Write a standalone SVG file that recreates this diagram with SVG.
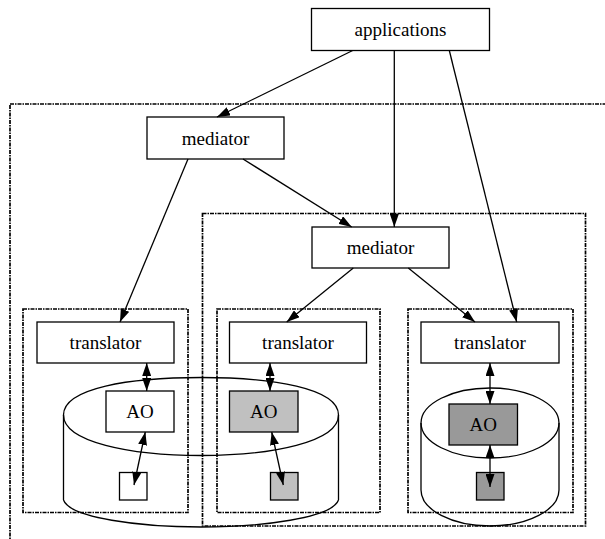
<svg xmlns="http://www.w3.org/2000/svg" width="605" height="539" viewBox="0 0 605 539">
<style>
.box{fill:#fff;stroke:#000;stroke-width:1.3}
.grp{fill:none;stroke:#000;stroke-width:1.7;stroke-dasharray:4,1,1.5,1}
.cyl{fill:none;stroke:#000;stroke-width:1.3}
.lbl{font-family:"Liberation Serif","Times New Roman",serif;font-size:19px;text-anchor:middle;fill:#000}
.edge{stroke:#000;stroke-width:1.3;fill:none}
.one{marker-end:url(#ah)}
.two{marker-start:url(#ah);marker-end:url(#ah)}
.g1{fill:#c0c0c0}
.g2{fill:#999999}
</style>
<defs>
<marker id="ah" markerUnits="userSpaceOnUse" markerWidth="13" markerHeight="9" viewBox="0 0 13 9" refX="13" refY="4.5" orient="auto-start-reverse">
<path d="M0,0 L13,4.5 L0,9 z" fill="#000"/>
</marker>
</defs>
<g id="groups">
<rect class="grp" x="10" y="104" width="640" height="480"/>
<rect class="grp" x="202.5" y="213.5" width="383" height="312.5"/>
<rect class="grp" x="23" y="309" width="165" height="203.5"/>
<rect class="grp" x="217" y="309" width="163" height="203.5"/>
<rect class="grp" x="408" y="309" width="165" height="203.5"/>
</g>
<g id="store1">
<path class="cyl" d="M63.5,415 C63.5,388 130,377.5 201,377.5 C272,377.5 338.5,388 338.5,415 C338.5,442 272,455.5 201,455.5 C130,455.5 63.5,442 63.5,415 Z"/>
<path class="cyl" d="M63.5,415 V500 M338.5,415 V500 M63.5,500 C70,518 140,527 201,527 C262,527 332,518 338.5,500"/>
</g>
<g id="store2">
<ellipse class="cyl" cx="490" cy="423" rx="69" ry="35"/>
<path class="cyl" d="M421,423 V490 M559,423 V490 M421,490 A69,36 0 0 0 559,490"/>
</g>
<g id="applications">
<rect class="box" x="311.5" y="8.5" width="178" height="42"/>
<text class="lbl" x="400.5" y="36">applications</text>
</g>
<g id="mediator1">
<rect class="box" x="147" y="117" width="137" height="42"/>
<text class="lbl" x="215.5" y="144.5">mediator</text>
</g>
<g id="mediator2">
<rect class="box" x="312" y="227" width="137" height="41"/>
<text class="lbl" x="380.5" y="254">mediator</text>
</g>
<g id="translator1">
<rect class="box" x="37" y="322" width="137" height="41"/>
<text class="lbl" x="105.5" y="349">translator</text>
</g>
<g id="translator2">
<rect class="box" x="229.5" y="322" width="137" height="41"/>
<text class="lbl" x="298" y="349">translator</text>
</g>
<g id="translator3">
<rect class="box" x="421" y="322" width="138" height="41"/>
<text class="lbl" x="490" y="349">translator</text>
</g>
<g id="ao1">
<rect class="box" x="106" y="391" width="68" height="41"/>
<text class="lbl" x="140" y="418">AO</text>
</g>
<g id="ao2">
<rect class="box g1" x="229.5" y="391" width="68.5" height="41"/>
<text class="lbl" x="263.75" y="418">AO</text>
</g>
<g id="ao3">
<rect class="box g2" x="449" y="404" width="68.5" height="41"/>
<text class="lbl" x="483.25" y="431">AO</text>
</g>
<g id="obj1"><rect class="box" x="119.5" y="472.5" width="27.5" height="27.5"/></g>
<g id="obj2"><rect class="box g1" x="270.5" y="472.5" width="27.5" height="27.5"/></g>
<g id="obj3"><rect class="box g2" x="476.5" y="472.5" width="27.5" height="27.5"/></g>
<g id="connectors">
<line class="edge one" x1="352.7" y1="50.5" x2="217" y2="117"/>
<line class="edge one" x1="394.3" y1="50.5" x2="394.3" y2="227"/>
<line class="edge one" x1="449.3" y1="50.5" x2="516.7" y2="322"/>
<line class="edge one" x1="188" y1="159" x2="120" y2="322"/>
<line class="edge one" x1="243" y1="159" x2="351.7" y2="227"/>
<line class="edge one" x1="353.3" y1="268" x2="286.7" y2="322"/>
<line class="edge one" x1="408.3" y1="268" x2="475" y2="322"/>
<line class="edge two" x1="146.7" y1="363" x2="146.7" y2="391"/>
<line class="edge two" x1="270" y1="363" x2="270" y2="391"/>
<line class="edge two" x1="490" y1="363" x2="490" y2="404"/>
<line class="edge two" x1="145.3" y1="432" x2="134" y2="485"/>
<line class="edge two" x1="271.7" y1="432" x2="283.3" y2="485"/>
<line class="edge two" x1="490" y1="445" x2="490" y2="487"/>
</g>
</svg>
